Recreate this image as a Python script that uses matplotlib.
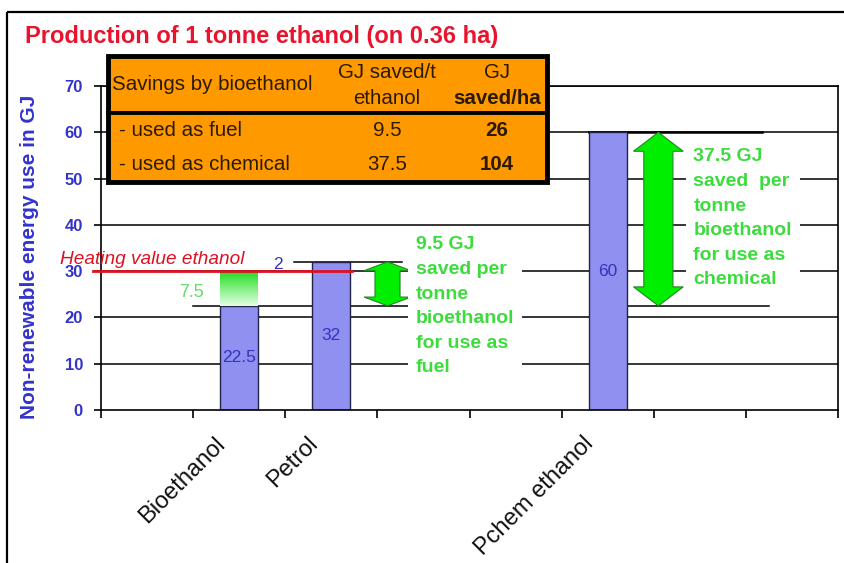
import numpy as np
import matplotlib.pyplot as plt
import matplotlib.transforms as mtransforms
from matplotlib.patches import Rectangle, Polygon

plt.rcParams['font.family'] = ['Liberation Sans', 'DejaVu Sans']

# categories along x (8 slots, most empty)
categories = ['', 'Bioethanol', 'Petrol', '', '', 'Pchem ethanol', '', '']
bar_pos = [1, 2, 5]
bar_values = [22.5, 32, 60]
bar_labels = ['22.5', '32', '60']

heating_value = 30
bio_gap_label = '7.5'
petrol_extra_label = '2'

# savings table
table_header = ['Savings by bioethanol', 'GJ saved/t\nethanol', 'GJ\nsaved/ha']
row_labels = ['- used as fuel', '- used as chemical']
saved_per_t = ['9.5', '37.5']
saved_per_ha = ['26', '104']

fuel_note = '9.5 GJ\nsaved per\ntonne\nbioethanol\nfor use as\nfuel'
chem_note = '37.5 GJ\nsaved  per\ntonne\nbioethanol\nfor use as\nchemical'

W, H = 844, 563
fig = plt.figure(figsize=(W / 100, H / 100), dpi=100)
ax = fig.add_axes([101 / W, 1 - 410 / H, 737 / W, 324 / H])

bar_col = '#9090f0'
green = '#00ee00'
txt_green = '#3ddc3d'
blue = '#3333bb'

ax.set_xlim(0, len(categories))
ax.set_ylim(0, 70)

# grid
for v in range(10, 71, 10):
    ax.axhline(v, color='black', lw=1.1, zorder=0.5)

# helper lines
ax.plot([1.0, 3.36], [bar_values[0]] * 2, color='black', lw=1.1, zorder=0.6)
ax.plot([2.1, 3.27], [bar_values[1]] * 2, color='black', lw=1.1, zorder=0.6)
ax.plot([5.3, 7.18], [bar_values[2]] * 2, color='black', lw=1.8, zorder=0.6)
ax.plot([5.7, 7.25], [bar_values[0]] * 2, color='black', lw=1.1, zorder=0.6)

# bars
xs = np.array(bar_pos) + 0.5
ax.bar(xs, bar_values, width=0.41, color=bar_col, edgecolor='#222244', lw=1, zorder=2)
for x, v, s in zip(xs, bar_values, bar_labels):
    ax.text(x, v / 2, s, ha='center', va='center', color=blue, fontsize=12.5, zorder=5)

# gradient on bioethanol from 22.5 up to heating value
grad = np.linspace(0, 1, 50).reshape(-1, 1)
top_c = np.array([0.13, 0.87, 0.13])
bot_c = np.array([0.90, 1.0, 0.90])
img = bot_c * (1 - grad[..., None]) + top_c * grad[..., None]
ax.imshow(img, extent=[xs[0] - 0.205, xs[0] + 0.205, bar_values[0], heating_value],
          origin='lower', aspect='auto', zorder=2)

# heating value line
ax.plot([-0.09, 2.72], [heating_value] * 2, color='#dd1122', lw=2, zorder=3, clip_on=False)
ax.text(-0.45, 32.6, 'Heating value ethanol', color='#dd1122', style='italic',
        fontsize=13.7, va='center', ha='left', zorder=6)
ax.text(1.12, 25.3, bio_gap_label, color='#66dd66', fontsize=13, ha='right', va='center', zorder=5)
ax.text(1.92, 31.4, petrol_extra_label, color=blue, fontsize=12.5, ha='center', va='center', zorder=5)


def double_arrow(xc, y0, y1, shaft, head, hl):
    pts = [(xc, y1), (xc + head, y1 - hl), (xc + shaft, y1 - hl), (xc + shaft, y0 + hl),
           (xc + head, y0 + hl), (xc, y0), (xc - head, y0 + hl), (xc - shaft, y0 + hl),
           (xc - shaft, y1 - hl), (xc - head, y1 - hl)]
    ax.add_patch(Polygon(pts, closed=True, fc=green, ec='#228822', lw=0.8, zorder=4))


double_arrow(3.11, bar_values[0], bar_values[1], 0.136, 0.255, 1.9)
double_arrow(6.05, bar_values[0], bar_values[2], 0.158, 0.27, 4.1)

box = dict(boxstyle='square,pad=0.4', fc='white', ec='none')
ax.text(3.42, 37.5, fuel_note, color=txt_green, fontsize=14, fontweight='bold',
        ha='left', va='top', linespacing=1.58, bbox=box, zorder=5)
ax.text(6.43, 56.5, chem_note, color=txt_green, fontsize=14, fontweight='bold',
        ha='left', va='top', linespacing=1.58, bbox=box, zorder=5)

# axes styling
ax.set_xticks(range(len(categories) + 1))
ax.set_xticklabels([])
ax.set_xticks(np.arange(len(categories)) + 0.5, minor=True)
ax.set_xticklabels(categories, minor=True, rotation=45, ha='right', va='center',
                   rotation_mode='anchor', fontsize=17, color='#111111')
ax.tick_params(axis='x', which='major', length=6, direction='out', width=1.2)
ax.tick_params(axis='x', which='minor', length=0, pad=22)
off = mtransforms.ScaledTranslation(-17 / 100, 0, fig.dpi_scale_trans)
for lab in ax.get_xticklabels(minor=True):
    lab.set_transform(lab.get_transform() + off)

ax.set_yticks(range(0, 71, 10))
ax.tick_params(axis='y', length=5, direction='out', width=1.2, labelsize=12,
               labelcolor='#3333cc', pad=8)
for lab in ax.get_yticklabels():
    lab.set_fontweight('bold')
for sp in ax.spines.values():
    sp.set_linewidth(1.2)
    sp.set_color('black')

# overlay in pixel coordinates for title, frame and table
ov = fig.add_axes([0, 0, 1, 1], zorder=10)
ov.set_xlim(0, W)
ov.set_ylim(H, 0)
ov.axis('off')

ov.add_patch(Rectangle((7, 12), W + 10, H + 10, fc='none', ec='black', lw=1.6, clip_on=False))
ov.text(25, 37, 'Production of 1 tonne ethanol (on 0.36 ha)', color='#e8142e',
        fontsize=17, fontweight='bold', ha='left', va='center')
ov.text(30, 257, 'Non-renewable energy use in GJ', color='#3333cc', fontsize=15,
        fontweight='bold', rotation=90, ha='center', va='center')

ov.add_patch(Rectangle((108, 56), 439, 126, fc='#ff9900', ec='black', lw=3.5))
ov.plot([108, 547], [113, 113], color='black', lw=2.8)
tc = '#2a1a00'
fs = 14.8
ov.text(112, 85, table_header[0], color=tc, fontsize=fs, ha='left', va='center')
h2a, h2b = table_header[1].split('\n')
h3a, h3b = table_header[2].split('\n')
ov.text(387, 73, h2a, color=tc, fontsize=fs, ha='center', va='center')
ov.text(387, 98, h2b, color=tc, fontsize=fs, ha='center', va='center')
ov.text(497, 73, h3a, color=tc, fontsize=fs, ha='center', va='center')
ov.text(497, 98, h3b, color=tc, fontsize=fs, fontweight='bold', ha='center', va='center')
for i, (r, a, b) in enumerate(zip(row_labels, saved_per_t, saved_per_ha)):
    y = 130 + 35 * i
    ov.text(119, y, r, color=tc, fontsize=fs, ha='left', va='center')
    ov.text(387, y, a, color=tc, fontsize=fs, ha='center', va='center')
    ov.text(497, y, b, color=tc, fontsize=fs, fontweight='bold', ha='center', va='center')

fig.savefig('out.png', dpi=100)
